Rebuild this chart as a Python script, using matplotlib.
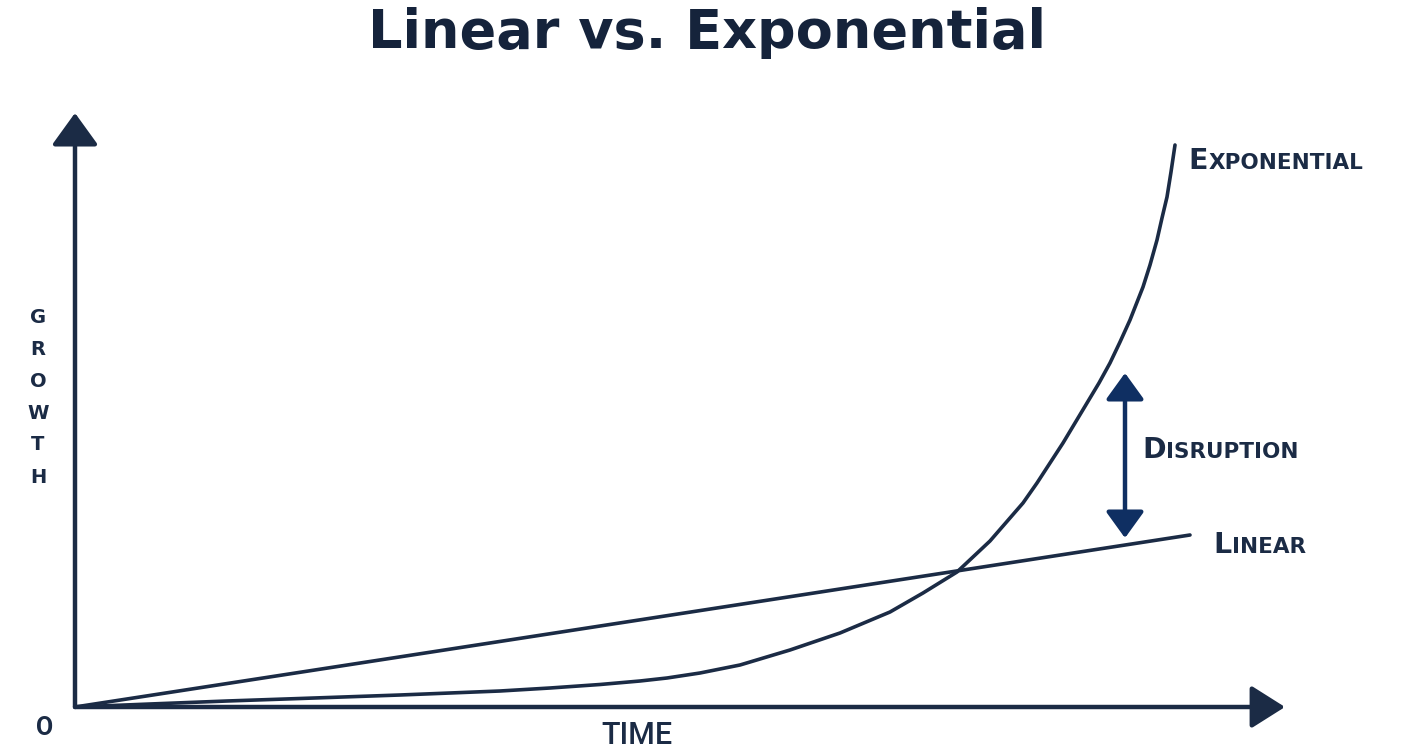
import matplotlib.pyplot as plt
from matplotlib.transforms import offset_copy

# values, in units of 100 px from the origin
time_exp = [0.0, 0.75, 1.52, 2.25, 3.25, 4.25, 4.75, 5.25, 5.65, 5.92, 6.25, 6.65,
            7.15, 7.65, 8.15, 8.48, 8.82, 9.15, 9.48, 9.62, 9.75, 9.88, 10.00, 10.12,
            10.24, 10.35, 10.45, 10.55, 10.68, 10.75, 10.82, 10.87, 10.92, 10.96, 11.00]
growth_exp = [0.0, 0.03, 0.06, 0.085, 0.12, 0.16, 0.19, 0.225, 0.26, 0.29, 0.34, 0.42,
              0.57, 0.74, 0.95, 1.14, 1.35, 1.66, 2.04, 2.24, 2.44, 2.64, 2.84, 3.04,
              3.24, 3.44, 3.65, 3.87, 4.20, 4.42, 4.67, 4.89, 5.10, 5.35, 5.62]
time_lin = [0.0, 11.15]
growth_lin = [0.0, 1.72]
disruption_t = 10.50
disruption_range = (1.69, 3.34)
y_axis_top = 5.94
x_axis_end = 12.10

NAVY = "#1b2b45"
BLUE = "#0f2f62"

fig = plt.figure(figsize=(14.14, 7.51), dpi=100)
ax = fig.add_axes([0, 0, 1, 1])
ax.set_xlim(-0.75, 13.39)
ax.set_ylim(-0.44, 7.07)
ax.axis("off")

# axes with arrow heads
ax.annotate("", xy=(0, y_axis_top), xytext=(0, 0),
            arrowprops=dict(arrowstyle="-|>,head_length=0.9,head_width=0.65",
                            color=NAVY, lw=3.2, mutation_scale=22,
                            shrinkA=0, shrinkB=0))
ax.annotate("", xy=(x_axis_end, 0), xytext=(0, 0),
            arrowprops=dict(arrowstyle="-|>,head_length=0.95,head_width=0.6",
                            color=NAVY, lw=3.2, mutation_scale=22,
                            shrinkA=0, shrinkB=0))

ax.plot(time_exp, growth_exp, color=NAVY, lw=2.6, solid_joinstyle="round",
        solid_capstyle="round")
ax.plot(time_lin, growth_lin, color=NAVY, lw=2.6, solid_capstyle="round")

ax.annotate("", xy=(disruption_t, disruption_range[1]), xytext=(disruption_t, disruption_range[0]),
            arrowprops=dict(arrowstyle="<|-|>,head_length=0.9,head_width=0.65",
                            color=BLUE, lw=3.2, mutation_scale=18,
                            shrinkA=0, shrinkB=0))

fig.text(0.5, 1 - 48 / 751, "Linear vs. Exponential", ha="center", va="baseline",
         fontsize=39, color="#15233b", family="DejaVu Sans", weight="bold")


def small_caps(x, y, word, big=20.5, small=15.5):
    first = ax.text(x, y, word[0], fontsize=big, color=NAVY, weight="bold",
                    family="DejaVu Sans", va="baseline", ha="left")
    fig.canvas.draw()
    bb = first.get_window_extent()
    tr = offset_copy(ax.transData, fig=fig, x=bb.width * 72 / fig.dpi + 0.5, y=0, units="points")
    ax.text(x, y, word[1:].upper(), fontsize=small, color=NAVY, weight="bold",
            family="DejaVu Sans", va="baseline", ha="left", transform=tr)


small_caps(11.13, 5.38, "Exponential")
small_caps(10.67, 2.49, "Disruption")
small_caps(11.38, 1.54, "Linear")

for i, ch in enumerate("GROWTH"):
    ax.text(-0.37, 3.90 - i * 0.32, ch, fontsize=14, color=NAVY, weight="bold",
            family="DejaVu Sans", ha="center", va="center")

ax.text(-0.30, -0.21, "O", fontsize=18, color=NAVY, weight="bold",
        family="Roboto", ha="center", va="center")
ax.text(5.62, -0.28, "TIME", fontsize=22, color=NAVY, weight="medium",
        family="Roboto", ha="center", va="center")

fig.savefig("out.png", dpi=100, facecolor="white")
